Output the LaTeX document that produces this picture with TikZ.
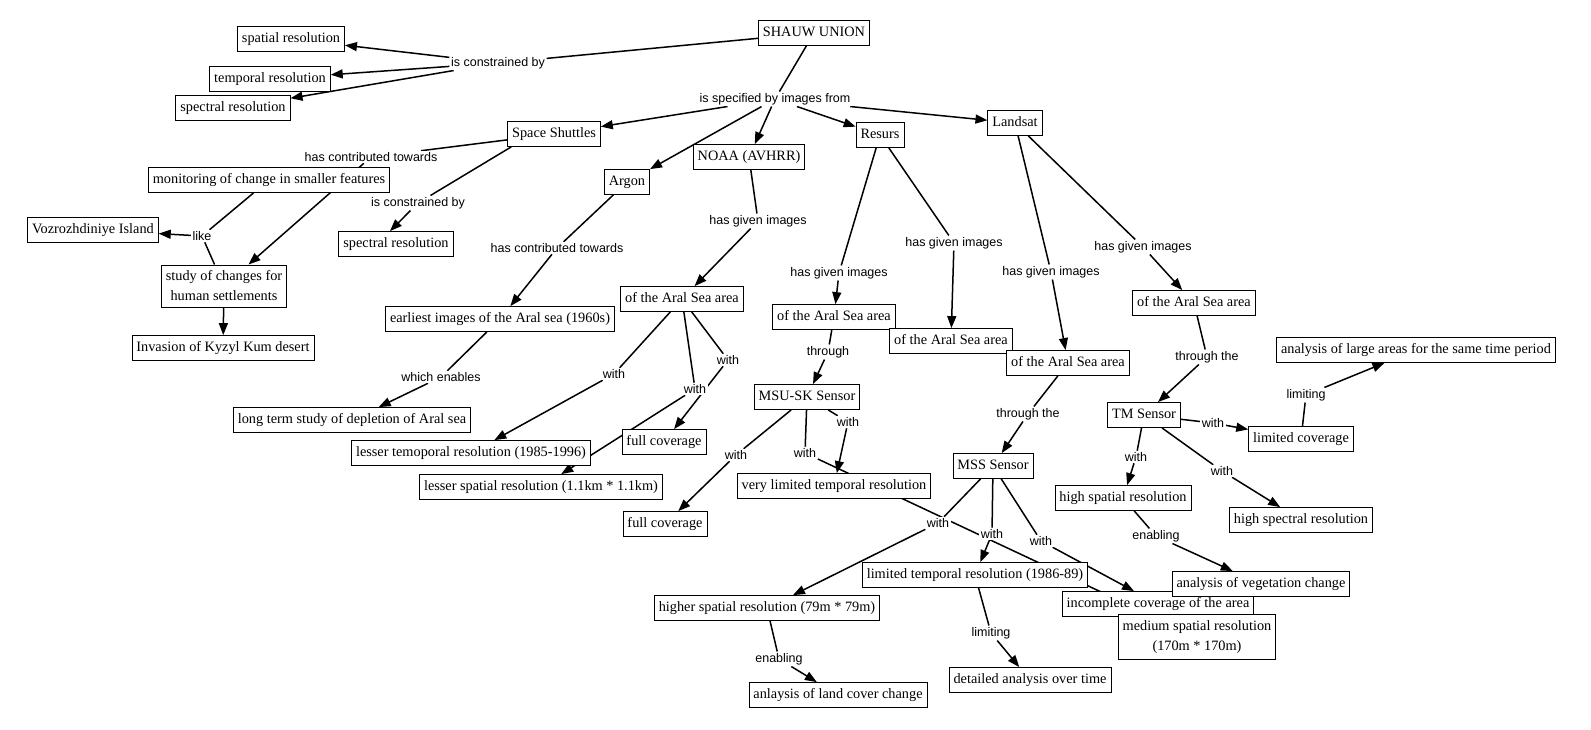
\documentclass[tikz,border=0pt]{standalone}
\usepackage{fontspec}
\setmainfont{Liberation Serif}
\newfontfamily\linkfamily{Liberation Sans}
\usetikzlibrary{arrows.meta,backgrounds}
\tikzset{
	concept/.style={draw, fill=white, line width=0.8pt, font=\fontsize{14.3}{20}\selectfont,
		inner xsep=4.5pt, inner ysep=5.5pt, text height=10.5pt, text depth=3.5pt},
	twoline/.style={draw, fill=white, line width=0.8pt, font=\fontsize{14.3}{20}\selectfont,
		inner xsep=4.5pt, inner ysep=6pt, align=center},
	linkword/.style={fill=white, font=\linkfamily\fontsize{12.5}{14}\selectfont, inner sep=1.5pt},
	link/.style={line width=1.5pt},
	linkarrow/.style={link, -{Triangle[length=12pt,width=9pt]}}
}
\begin{document}
\begin{tikzpicture}[x=1pt,y=-1pt]
\useasboundingbox (0,0) rectangle (1591,729);
\node[concept] (shauw) at (814,33) {SHAUW UNION};
\node[concept] (spatial) at (291,39) {spatial resolution};
\node[concept] (temporal) at (270,79) {temporal resolution};
\node[concept] (spectral) at (233,108) {spectral resolution};
\node[concept] (shuttles) at (554,134) {Space Shuttles};
\node[concept] (argon) at (627,182) {Argon};
\node[concept] (noaa) at (749,157) {NOAA (AVHRR)};
\node[concept] (resurs) at (880,135) {Resurs};
\node[concept] (landsat) at (1015,123) {Landsat};
\node[concept] (monitor) at (269,180) {monitoring of change in smaller features};
\node[concept] (island) at (93,230) {Vozrozhdiniye Island};
\node[concept] (spectralb) at (396,244) {spectral resolution};
\node[twoline] (settle) at (224,286) {study of changes for\\human settlements};
\node[concept] (kyzyl) at (223,348) {Invasion of Kyzyl Kum desert};
\node[concept] (earliest) at (500,319) {earliest images of the Aral sea (1960s)};
\node[concept] (longterm) at (352,420) {long term study of depletion of Aral sea};
\node[concept] (areanoaa) at (682,299) {of the Aral Sea area};
\node[concept] (lesstemp) at (471,453) {lesser temoporal resolution (1985-1996)};
\node[concept] (fullnoaa) at (664,442) {full coverage};
\node[concept] (lessspat) at (541,487) {lesser spatial resolution (1.1km * 1.1km)};
\node[concept] (arearesa) at (834,317) {of the Aral Sea area};
\node[concept] (arearesb) at (951,341) {of the Aral Sea area};
\node[concept] (arealana) at (1068,363) {of the Aral Sea area};
\node[concept] (arealanb) at (1194,303) {of the Aral Sea area};
\node[concept] (msu) at (807,397) {MSU-SK Sensor};
\node[concept] (fullmsu) at (665,524) {full coverage};
\node[concept] (vlimtemp) at (834,486) {very limited temporal resolution};
\node[concept] (mss) at (993,466) {MSS Sensor};
\node[concept] (tm) at (1144,415) {TM Sensor};
\node[concept] (limcov) at (1301,439) {limited coverage};
\node[concept] (largearea) at (1416,350) {analysis of large areas for the same time period};
\node[concept] (highspat) at (1123,498) {high spatial resolution};
\node[concept] (highspec) at (1301,520) {high spectral resolution};
\node[concept] (limtemp) at (975,575) {limited temporal resolution (1986-89)};
\node[concept] (incomp) at (1158,604) {incomplete coverage of the area};
\node[concept] (vegchange) at (1261,584) {analysis of vegetation change};
\node[twoline] (medspat) at (1197,637) {medium spatial resolution\\(170m * 170m)};
\node[concept] (higherspat) at (767,608) {higher spatial resolution (79m * 79m)};
\node[concept] (landcover) at (838,695) {anlaysis of land cover change};
\node[concept] (detailed) at (1030,680) {detailed analysis over time};

\node[linkword] (constr) at (498,63) {is constrained by};
\node[linkword] (specif) at (775,99) {is specified by images from};
\node[linkword] (contrsh) at (371,157) {has contributed towards};
\node[linkword] (constrsh) at (418,203) {is constrained by};
\node[linkword] (like) at (202,236) {like};
\node[linkword] (contrar) at (557,248) {has contributed towards};
\node[linkword] (enables) at (441,377) {which enables};
\node[linkword] (givnoaa) at (758,221) {has given images};
\node[linkword] (withna) at (614,374) {with};
\node[linkword] (withnb) at (695,389) {with};
\node[linkword] (withnc) at (728,360) {with};
\node[linkword] (givresa) at (839,273) {has given images};
\node[linkword] (givresb) at (954,243) {has given images};
\node[linkword] (givlana) at (1051,272) {has given images};
\node[linkword] (givlanb) at (1143,247) {has given images};
\node[linkword] (through) at (828,352) {through};
\node[linkword] (thrmss) at (1028,414) {through the};
\node[linkword] (thrtm) at (1207,357) {through the};
\node[linkword] (withma) at (736,455) {with};
\node[linkword] (withmb) at (805,453) {with};
\node[linkword] (withmc) at (848,422) {with};
\node[linkword] (withsa) at (938,523) {with};
\node[linkword] (withsb) at (992,534) {with};
\node[linkword] (withsc) at (1041,541) {with};
\node[linkword] (withta) at (1213,423) {with};
\node[linkword] (withtb) at (1136,457) {with};
\node[linkword] (withtc) at (1222,471) {with};
\node[linkword] (limita) at (1306,395) {limiting};
\node[linkword] (enabla) at (1156,536) {enabling};
\node[linkword] (limitb) at (991,633) {limiting};
\node[linkword] (enablb) at (779,659) {enabling};

\begin{scope}[on background layer]
	\draw[link] (shauw) -- (constr);
	\draw[linkarrow] (constr) -- (spatial);
	\draw[linkarrow] (constr) -- (temporal);
	\draw[linkarrow] (constr) -- (spectral);
	\draw[link] (shauw) -- (specif);
	\draw[linkarrow] (specif) -- (shuttles);
	\draw[linkarrow] (specif) -- (argon);
	\draw[linkarrow] (specif) -- (noaa);
	\draw[linkarrow] (specif) -- (resurs);
	\draw[linkarrow] (specif) -- (landsat);
	\draw[link] (shuttles) -- (contrsh);
	\draw[linkarrow] (contrsh) -- (settle);
	\draw[link] ([xshift=4pt]shuttles.south west) -- (constrsh);
	\draw[linkarrow] (constrsh) -- ([xshift=-6pt]spectralb.north);
	\draw[link] (monitor) -- (like);
	\draw[link] (settle) -- (like);
	\draw[linkarrow] (like) -- (island);
	\draw[linkarrow] (settle) -- (kyzyl);
	\draw[link] (argon) -- (contrar);
	\draw[linkarrow] (contrar) -- (earliest);
	\draw[link] (earliest) -- (enables);
	\draw[linkarrow] (enables) -- (longterm);
	\draw[link] (noaa) -- (givnoaa);
	\draw[linkarrow] (givnoaa) -- (areanoaa);
	\draw[link] (areanoaa) -- (withna);
	\draw[linkarrow] (withna) -- (lesstemp);
	\draw[link] (areanoaa) -- (withnb);
	\draw[linkarrow] (withnb) -- (lessspat);
	\draw[link] (areanoaa) -- (withnc);
	\draw[linkarrow] (withnc) -- (fullnoaa);
	\draw[link] (resurs) -- (givresa);
	\draw[linkarrow] (givresa) -- (arearesa);
	\draw[link] (resurs) -- (givresb);
	\draw[linkarrow] (givresb) -- (arearesb);
	\draw[link] (landsat) -- (givlana);
	\draw[linkarrow] (givlana) -- (arealana);
	\draw[link] (landsat) -- (givlanb);
	\draw[linkarrow] (givlanb) -- (arealanb);
	\draw[link] (arearesa) -- (through);
	\draw[linkarrow] (through) -- (msu);
	\draw[link] (msu) -- (withma);
	\draw[linkarrow] (withma) -- (fullmsu);
	\draw[link] (msu) -- (withmb);
	\draw[linkarrow] (withmb) -- (medspat);
	\draw[link] (msu) -- (withmc);
	\draw[linkarrow] (withmc) -- (vlimtemp);
	\draw[link] (arealana) -- (thrmss);
	\draw[linkarrow] (thrmss) -- (mss);
	\draw[link] (mss) -- (withsa);
	\draw[linkarrow] (withsa) -- (higherspat);
	\draw[link] (mss) -- (withsb);
	\draw[linkarrow] (withsb) -- (limtemp);
	\draw[link] (mss) -- (withsc);
	\draw[linkarrow] (withsc) -- (incomp);
	\draw[link] (arealanb) -- (thrtm);
	\draw[linkarrow] (thrtm) -- (tm);
	\draw[link] (tm) -- (withta);
	\draw[linkarrow] (withta) -- (limcov);
	\draw[link] (tm) -- (withtb);
	\draw[linkarrow] (withtb) -- (highspat);
	\draw[link] (tm) -- (withtc);
	\draw[linkarrow] (withtc) -- (highspec);
	\draw[link] (limcov) -- (limita);
	\draw[linkarrow] (limita) -- (largearea);
	\draw[link] (highspat) -- (enabla);
	\draw[linkarrow] (enabla) -- (vegchange);
	\draw[link] (limtemp) -- (limitb);
	\draw[linkarrow] (limitb) -- (detailed);
	\draw[link] (higherspat) -- (enablb);
	\draw[linkarrow] (enablb) -- (landcover);
\end{scope}
\end{tikzpicture}
\end{document}
